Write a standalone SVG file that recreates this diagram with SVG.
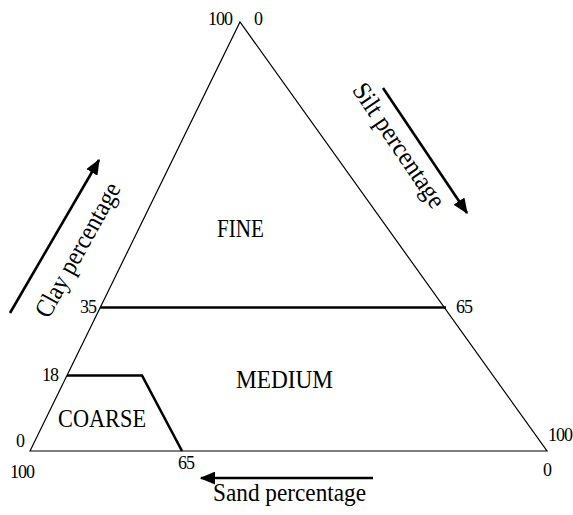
<svg xmlns="http://www.w3.org/2000/svg" width="573" height="515" viewBox="0 0 573 515">
<style>
text{font-family:"Liberation Serif","Times New Roman",serif;fill:#000}
.num{font-size:18px;letter-spacing:-1px}
.lbl{font-size:26px}
.thin{fill:none;stroke:#000;stroke-width:1.2}
.thick{fill:none;stroke:#000;stroke-width:2.6}
</style>
<defs>
<marker id="ah" markerWidth="6" markerHeight="5" refX="5.5" refY="2.5" orient="auto" markerUnits="strokeWidth">
<path d="M0,0 L6,2.5 L0,5 Z" fill="#000"/>
</marker>
</defs>
<g id="triangle">
<path class="thin" d="M30,451 L240,22 L547,451 Z"/>
</g>
<g id="fine">
<text class="lbl" x="217" y="237" textLength="47" lengthAdjust="spacingAndGlyphs">FINE</text>
</g>
<g id="medium">
<text class="lbl" x="236" y="388" textLength="97" lengthAdjust="spacingAndGlyphs">MEDIUM</text>
</g>
<g id="coarse">
<text class="lbl" x="58" y="427" textLength="88" lengthAdjust="spacingAndGlyphs">COARSE</text>
</g>
<g id="connectors">
<line class="thick" x1="100" y1="307.5" x2="446" y2="307.5"/>
<path class="thick" d="M67,375.5 L142,375.5 L182,451"/>
<line class="thick" x1="373" y1="478" x2="201" y2="478" marker-end="url(#ah)"/>
<line class="thick" x1="10" y1="313" x2="99" y2="160" marker-end="url(#ah)"/>
<line class="thick" x1="383" y1="88" x2="467" y2="213" marker-end="url(#ah)"/>
</g>
<g id="numbers">
<text class="num" x="208" y="25">100</text>
<text class="num" x="254" y="25">0</text>
<text class="num" x="80" y="313">35</text>
<text class="num" x="456" y="313">65</text>
<text class="num" x="42" y="381">18</text>
<text class="num" x="16" y="447">0</text>
<text class="num" x="10" y="478">100</text>
<text class="num" x="178" y="469">65</text>
<text class="num" x="548" y="441">100</text>
<text class="num" x="543" y="476">0</text>
</g>
<g id="axis-labels">
<text class="lbl" x="213" y="501" textLength="153" lengthAdjust="spacingAndGlyphs">Sand percentage</text>
<text class="lbl" text-anchor="middle" transform="translate(85,254) rotate(-61)" textLength="150" lengthAdjust="spacingAndGlyphs">Clay percentage</text>
<text class="lbl" text-anchor="middle" transform="translate(392,150) rotate(56)" textLength="145" lengthAdjust="spacingAndGlyphs">Silt percentage</text>
</g>
</svg>
